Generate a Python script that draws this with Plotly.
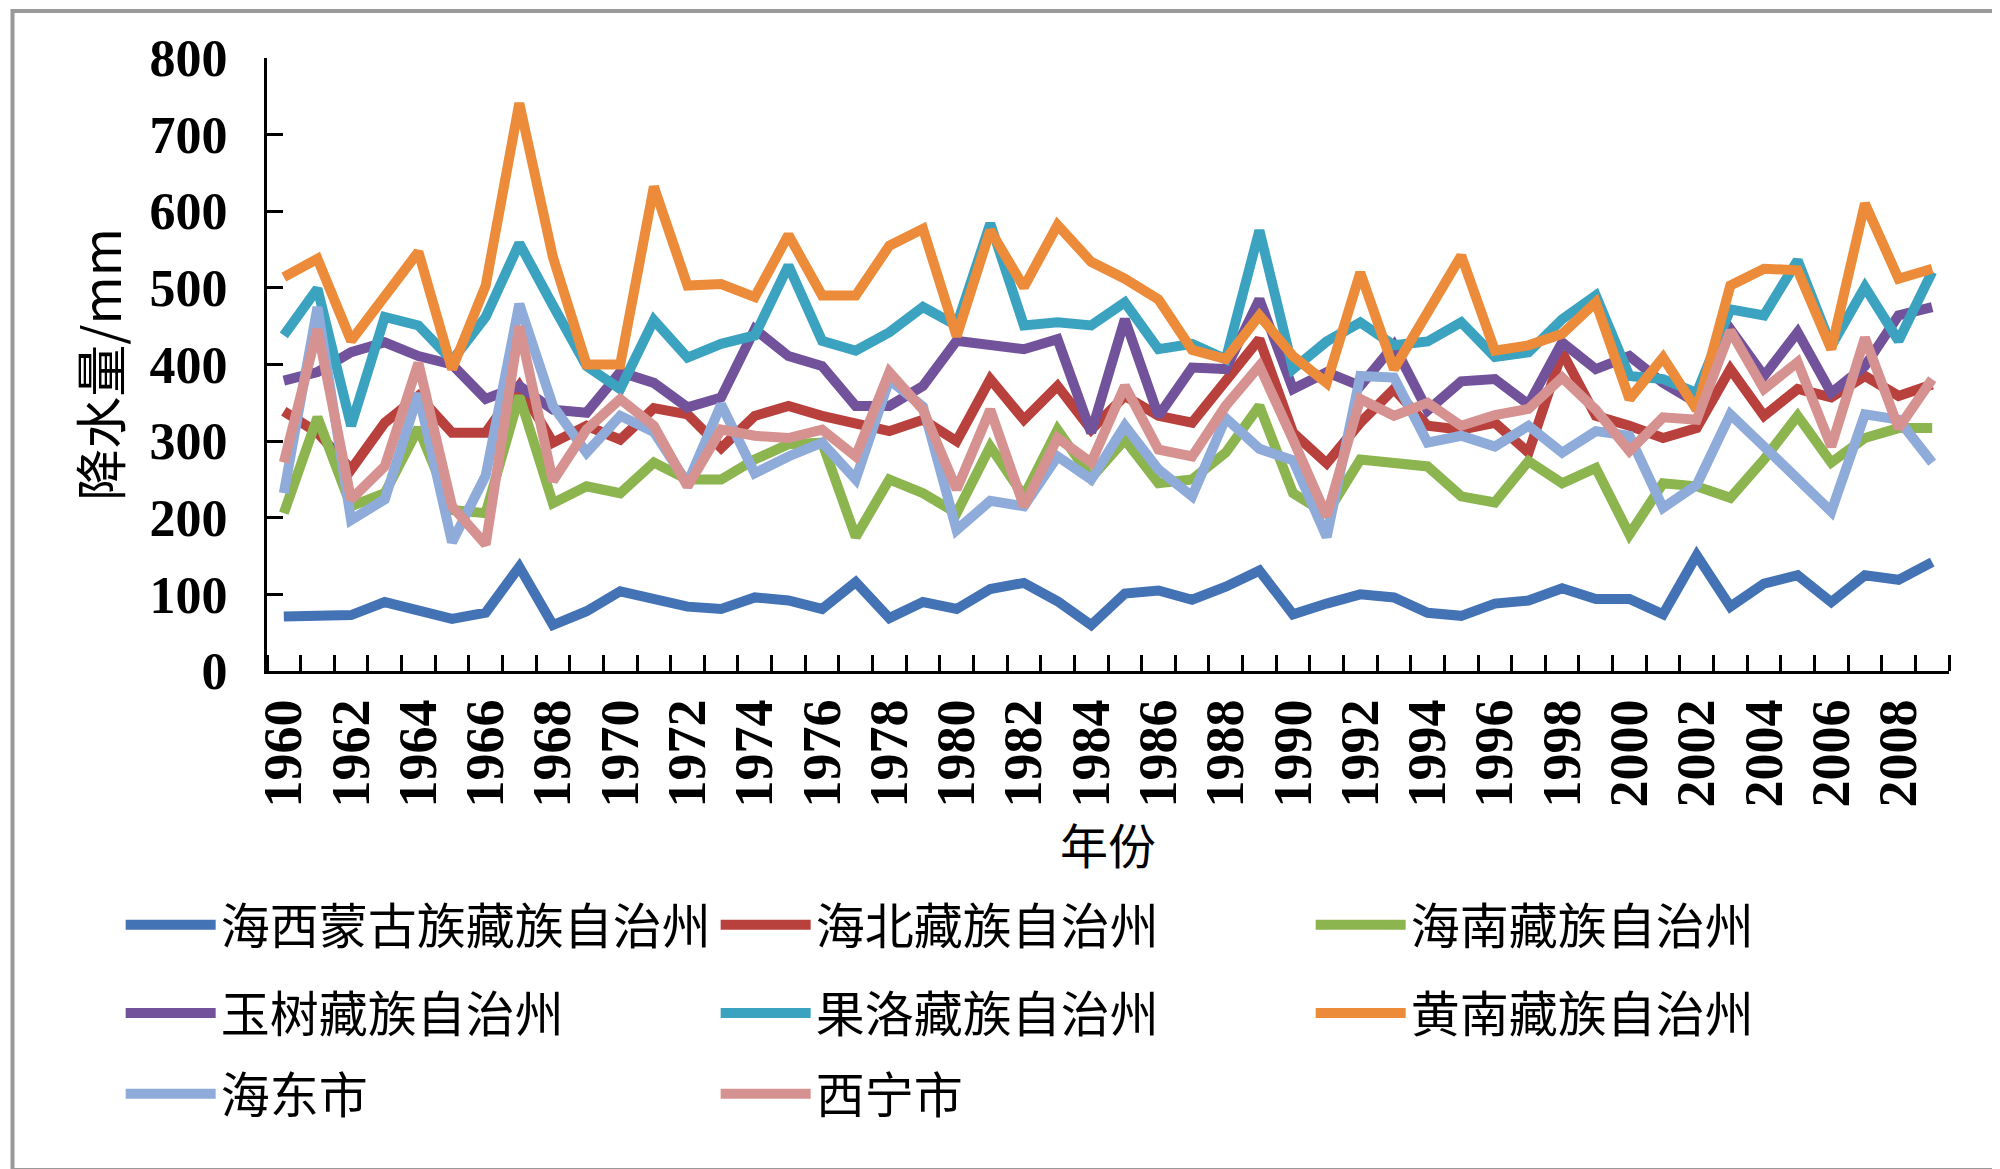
import plotly.graph_objects as go

# Years on the category axis
years = list(range(1960, 2010))
tick_years = list(range(1960, 2010, 2))

# Annual precipitation (mm)
haixi = [71, 71, 73, 90, 78, 68, 76, 136, 60, 78,
         104, 94, 84, 81, 96, 92, 81, 116, 69, 90,
         81, 107, 115, 91, 60, 101, 105, 93, 110, 131,
         74, 88, 100, 96, 76, 72, 88, 92, 108, 94,
         94, 74, 151, 84, 114, 125, 90, 125, 119, 142]
haibei = [339, 311, 263, 324, 359, 311, 311, 372, 298, 320,
          302, 343, 335, 291, 333, 346, 333, 324, 313, 328,
          300, 381, 328, 372, 315, 359, 333, 324, 381, 433,
          311, 271, 324, 368, 320, 315, 324, 285, 416, 333,
          320, 304, 317, 394, 333, 368, 357, 385, 359, 374]
hainan = [206, 331, 215, 232, 317, 210, 206, 359, 219, 241,
          232, 272, 250, 250, 276, 296, 298, 175, 250, 232,
          206, 293, 228, 315, 252, 302, 245, 250, 285, 346,
          232, 205, 276, 272, 267, 228, 220, 274, 245, 265,
          178, 245, 241, 226, 276, 333, 272, 304, 317, 317]
yushu = [379, 390, 416, 429, 411, 400, 355, 372, 341, 337,
         390, 376, 344, 357, 446, 411, 398, 346, 346, 372,
         431, 424, 420, 433, 311, 459, 333, 396, 394, 485,
         368, 390, 372, 425, 340, 378, 381, 348, 429, 394,
         411, 376, 350, 446, 385, 442, 363, 398, 464, 475]
guoluo = [438, 499, 320, 462, 451, 405, 462, 558, 477, 398,
          368, 458, 409, 427, 438, 529, 431, 418, 442, 475,
          451, 584, 451, 455, 451, 481, 420, 427, 407, 575,
          394, 430, 455, 425, 430, 455, 410, 416, 459, 490,
          385, 381, 363, 472, 464, 536, 424, 501, 431, 521]
huangnan = [514, 538, 431, 488, 547, 394, 503, 741, 540, 400,
            400, 632, 503, 505, 488, 569, 490, 490, 555, 577,
            437, 575, 501, 582, 534, 512, 485, 419, 407, 464,
            411, 376, 520, 394, 468, 542, 418, 425, 440, 481,
            355, 409, 341, 503, 525, 523, 420, 610, 512, 525]
haidong = [232, 475, 197, 224, 362, 168, 255, 479, 346, 285,
           333, 312, 245, 348, 258, 280, 298, 250, 380, 345,
           184, 222, 215, 280, 250, 320, 263, 228, 330, 290,
           275, 175, 385, 383, 298, 307, 293, 320, 285, 313,
           307, 213, 243, 335, 293, 250, 208, 335, 328, 272]
xining = [272, 446, 224, 267, 402, 215, 165, 450, 248, 315,
          355, 320, 241, 315, 307, 304, 315, 280, 390, 341,
          237, 341, 215, 304, 272, 372, 289, 280, 346, 398,
          302, 202, 355, 333, 350, 320, 334, 342, 383, 341,
          287, 331, 328, 444, 368, 403, 293, 435, 317, 381]

series = [
    ('海西蒙古族藏族自治州', haixi, '#4372b5', 'legend'),
    ('海北藏族自治州', haibei, '#b8403d', 'legend'),
    ('海南藏族自治州', hainan, '#8cb44f', 'legend'),
    ('玉树藏族自治州', yushu, '#72529b', 'legend2'),
    ('果洛藏族自治州', guoluo, '#3ba3c0', 'legend2'),
    ('黄南藏族自治州', huangnan, '#ec8b3a', 'legend2'),
    ('海东市', haidong, '#8fabd9', 'legend3'),
    ('西宁市', xining, '#d69290', 'legend3'),
]

fig = go.Figure()
for name, vals, color, leg in series:
    fig.add_trace(go.Scatter(x=years, y=vals, mode='lines', name=name,
                             line=dict(color=color, width=10), legend=leg))

font_num = 'Liberation Serif, Noto Sans CJK SC'
font_cjk = 'Noto Sans CJK SC, Liberation Serif'

leg_common = dict(orientation='h', xanchor='left', yanchor='middle',
                  itemwidth=90, entrywidth=490, entrywidthmode='pixels',
                  bgcolor='rgba(0,0,0,0)', font=dict(family=font_cjk, size=49, color='black'),
                  itemclick=False)

fig.update_layout(
    width=2000, height=1169,
    margin=dict(l=259, r=59, t=50, b=506),
    plot_bgcolor='white', paper_bgcolor='white',
    legend=dict(x=-0.087, y=-0.414, **leg_common),
    legend2=dict(x=-0.087, y=-0.558, **leg_common),
    legend3=dict(x=-0.087, y=-0.690, **leg_common),
    xaxis=dict(
        range=[1959.5, 2009.5], tickmode='array', tickvals=tick_years,
        ticktext=[str(y) for y in tick_years], tickangle=-90, ticks='',
        ticklabelstandoff=4,
        tickfont=dict(family=font_num, size=54, color='black', weight='bold'),
        showline=True, linecolor='black', linewidth=3, showgrid=False, zeroline=False,
        minor=dict(tickmode='linear', tick0=1959.5, dtick=1, ticks='inside',
                   ticklen=16, tickwidth=3, tickcolor='black', showgrid=False),
        title=dict(text='年份', font=dict(family=font_cjk, size=48, color='black'), standoff=12),
    ),
    yaxis=dict(
        range=[0, 800], dtick=100, ticks='inside', ticklen=16, tickwidth=3, tickcolor='black',
        ticklabelstandoff=26,
        tickfont=dict(family=font_num, size=52, color='black', weight='bold'),
        showline=True, linecolor='black', linewidth=3, showgrid=False, zeroline=False,
        title=dict(text='降水量/mm', font=dict(family=font_cjk, size=52, color='black'), standoff=12),
    ),
)

# Outer grey frame of the picture
fig.add_shape(type='rect', xref='paper', yref='paper',
              x0=-0.1513, x1=1.0357, y0=-0.8140, y1=1.0766,
              line=dict(color='#999999', width=4), fillcolor='rgba(0,0,0,0)', layer='below')

fig.write_html("out.html")
